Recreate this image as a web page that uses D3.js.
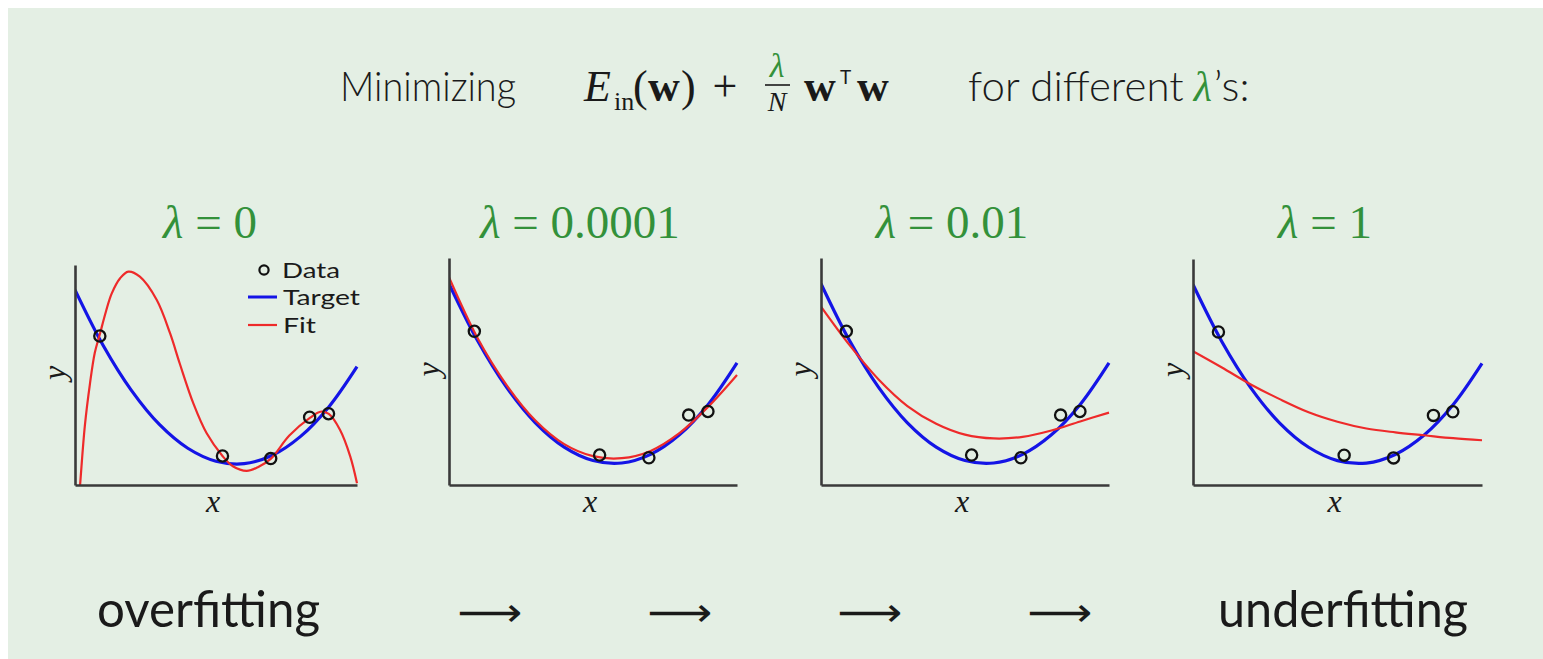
<!DOCTYPE html>
<html>
<head>
<meta charset="utf-8">
<script src="https://cdn.jsdelivr.net/npm/d3@7"></script>
<style>
  html, body { margin: 0; padding: 0; background: #ffffff; }
  svg { display: block; }
</style>
</head>
<body>
<svg id="chart" width="1543" height="659"></svg>
<script>
// ---- data -------------------------------------------------------------
// regularisation strengths, one panel each
const lambdaLabels = ["0", "0.0001", "0.01", "1"];

// noisy samples of the target
const dataX = [0.088, 0.523, 0.694, 0.832, 0.899];
const dataY = [0.677, 0.132, 0.120, 0.308, 0.324];

// common x grid for the smooth curves
const gridX = [0, 0.1, 0.2, 0.3, 0.4, 0.5, 0.6, 0.7, 0.8, 0.9, 1];

// target function (blue)
const targetY = [0.887, 0.634, 0.430, 0.274, 0.167, 0.108, 0.097, 0.135, 0.221, 0.355, 0.538];

// unregularised fit (lambda = 0) – wiggly, sampled more densely
const fitZeroX = [0, 0.018, 0.035, 0.053, 0.070, 0.088, 0.110, 0.130, 0.160, 0.189, 0.230, 0.290,
                  0.337, 0.372, 0.420, 0.467, 0.523, 0.560, 0.609, 0.650, 0.695, 0.760, 0.834,
                  0.870, 0.900, 0.940, 0.976, 1.0];
const fitZeroY = [-0.30, 0.0, 0.27, 0.46, 0.60, 0.685, 0.79, 0.87, 0.94, 0.97, 0.947, 0.841,
                  0.69, 0.55, 0.37, 0.235, 0.132, 0.085, 0.064, 0.082, 0.120, 0.225, 0.306,
                  0.333, 0.323, 0.25, 0.13, 0.008];

// regularised fits on the common grid
const fitSmallY = [0.915, 0.645, 0.440, 0.284, 0.180, 0.127, 0.118, 0.150, 0.228, 0.345, 0.485]; // 0.0001
const fitMidY   = [0.786, 0.615, 0.465, 0.348, 0.270, 0.222, 0.205, 0.212, 0.240, 0.280, 0.319]; // 0.01
const fitOneY   = [0.592, 0.520, 0.445, 0.380, 0.322, 0.280, 0.250, 0.233, 0.220, 0.207, 0.198]; // 1

const fitSeries = [
  fitZeroX.map((x, i) => [x, fitZeroY[i]]),
  gridX.map((x, i) => [x, fitSmallY[i]]),
  gridX.map((x, i) => [x, fitMidY[i]]),
  gridX.map((x, i) => [x, fitOneY[i]])
];
const targetSeries = gridX.map((x, i) => [x, targetY[i]]);
const points = dataX.map((x, i) => [x, dataY[i]]);

// ---- layout -------------------------------------------------------------
const panels = [
  { left: 75,  right: 357,  top: 265, bottom: 485, titleX: 210 },
  { left: 449, right: 737,  top: 258, bottom: 485, titleX: 580 },
  { left: 821, right: 1109, top: 258, bottom: 485, titleX: 952 },
  { left: 1193, right: 1482, top: 259, bottom: 485, titleX: 1325 }
];

const GREEN = "#33913a";
const BLUE = "#1414e6";
const RED = "#ee2a2a";
const AXIS = "#3a3a3a";
const SANS = "Lato, 'Open Sans', 'DejaVu Sans', sans-serif";
const SERIF = "'Liberation Serif', 'DejaVu Serif', serif";

const svg = d3.select("#chart");

// slide background
svg.append("rect")
  .attr("x", 8).attr("y", 8)
  .attr("width", 1535).attr("height", 651)
  .attr("fill", "#e4efe4");

function put(txt, x, y, o = {}) {
  const t = svg.append("text")
    .attr("x", x).attr("y", y)
    .attr("font-family", o.family || SANS)
    .attr("font-size", o.size || 38)
    .attr("fill", o.fill || "#1a1a1a")
    .attr("text-anchor", o.anchor || "start")
    .text(txt);
  if (o.italic) t.attr("font-style", "italic");
  if (o.bold) t.attr("font-weight", "bold");
  if (o.weight) t.attr("font-weight", o.weight);
  if (o.len) t.attr("textLength", o.len).attr("lengthAdjust", o.adjust || "spacing");
  return t;
}

// ---- heading: Minimizing E_in(w) + λ/N wᵀw for different λ's ----------
put("Minimizing", 340, 101, { size: 42, len: 176, adjust: "spacingAndGlyphs", weight: 300 });
put("E", 584, 101, { family: SERIF, size: 44, italic: true });
put("in", 614, 110, { family: SERIF, size: 26 });
put("(", 633, 101, { family: SERIF, size: 44 });
put("w", 648, 101, { family: SERIF, size: 44, bold: true });
put(")", 681, 101, { family: SERIF, size: 44 });
put("+", 725, 101, { family: SERIF, size: 44, anchor: "middle" });
put("λ", 777, 77, { family: SERIF, size: 34, italic: true, fill: GREEN, anchor: "middle" });
svg.append("line").attr("x1", 765).attr("x2", 790).attr("y1", 85).attr("y2", 85)
  .attr("stroke", "#1a1a1a").attr("stroke-width", 1.6);
put("N", 777, 111, { family: SERIF, size: 28, italic: true, anchor: "middle" });
put("w", 804, 101, { family: SERIF, size: 44, bold: true });
put("T", 840, 84, { family: SANS, size: 19 });
put("w", 857, 101, { family: SERIF, size: 44, bold: true });

// "for different λ's:" laid out piece by piece
const forTxt = put("for different", 968, 101, { size: 42, weight: 300 });
const lamX = 968 + forTxt.node().getComputedTextLength() + 10;
const lamTxt = put("λ", lamX, 101, { family: SERIF, size: 42, italic: true, fill: GREEN });
put("’s:", lamX + lamTxt.node().getComputedTextLength() + 2, 101, { size: 42, weight: 300 });

// ---- panels -------------------------------------------------------------
panels.forEach((p, k) => {
  const x = d3.scaleLinear().domain([0, 1]).range([p.left, p.right]);
  const y = d3.scaleLinear().domain([0, 1]).range([p.bottom, p.top]);
  const g = svg.append("g");

  const clipId = "clip" + k;
  svg.append("clipPath").attr("id", clipId)
    .append("rect")
    .attr("x", p.left).attr("y", p.top - 20)
    .attr("width", p.right - p.left + 2).attr("height", p.bottom - p.top + 20);

  // panel title
  const title = svg.append("text")
    .attr("x", p.titleX).attr("y", 238)
    .attr("text-anchor", "middle")
    .attr("font-family", SERIF).attr("font-size", 47)
    .attr("fill", GREEN);
  title.append("tspan").attr("font-style", "italic").text("λ");
  title.append("tspan").text(" = " + lambdaLabels[k]);

  const line = d3.line()
    .x(d => x(d[0])).y(d => y(d[1]))
    .curve(d3.curveCatmullRom.alpha(0.5));

  const plot = g.append("g").attr("clip-path", `url(#${clipId})`);

  plot.append("path").datum(targetSeries)
    .attr("d", line).attr("fill", "none")
    .attr("stroke", BLUE).attr("stroke-width", 3.2);

  plot.append("path").datum(fitSeries[k])
    .attr("d", line).attr("fill", "none")
    .attr("stroke", RED).attr("stroke-width", 2.2);

  g.selectAll("circle.pt").data(points).join("circle")
    .attr("class", "pt")
    .attr("cx", d => x(d[0])).attr("cy", d => y(d[1]))
    .attr("r", 5.6)
    .attr("fill", "none").attr("stroke", "#111").attr("stroke-width", 2.3);

  // axes: plain lines, no ticks
  const ax = g.append("g").attr("transform", `translate(0,${p.bottom})`)
    .call(d3.axisBottom(x).ticks(0).tickSizeOuter(0));
  const ay = g.append("g").attr("transform", `translate(${p.left},0)`)
    .call(d3.axisLeft(y).ticks(0).tickSizeOuter(0));
  [ax, ay].forEach(a => a.select(".domain")
    .attr("stroke", AXIS).attr("stroke-width", 2.6));

  // axis labels
  const cx = (p.left + p.right) / 2 - 3;
  put("x", cx, 512, { family: SERIF, size: 32, italic: true, anchor: "middle" });
  const cy = (p.top + p.bottom) / 2 - 2;
  svg.append("text")
    .attr("transform", `translate(${p.left - 10},${cy}) rotate(-90)`)
    .attr("text-anchor", "middle")
    .attr("font-family", SERIF).attr("font-size", 32).attr("font-style", "italic")
    .attr("fill", "#1a1a1a")
    .text("y");
});

// ---- legend (first panel) ---------------------------------------------
const lg = svg.append("g");
lg.append("circle").attr("cx", 264).attr("cy", 270).attr("r", 4.6)
  .attr("fill", "none").attr("stroke", "#111").attr("stroke-width", 2.2);
lg.append("line").attr("x1", 248).attr("x2", 277).attr("y1", 297).attr("y2", 297)
  .attr("stroke", BLUE).attr("stroke-width", 3);
lg.append("line").attr("x1", 248).attr("x2", 277).attr("y1", 325).attr("y2", 325)
  .attr("stroke", RED).attr("stroke-width", 2.2);
put("Data", 282, 278, { size: 22, len: 58, adjust: "spacingAndGlyphs" });
put("Target", 283, 305, { size: 22, len: 77, adjust: "spacingAndGlyphs" });
put("Fit", 283, 333, { size: 22, len: 33, adjust: "spacingAndGlyphs" });

// ---- bottom caption --------------------------------------------------
put("overfitting", 97, 627, { size: 50, len: 223, adjust: "spacingAndGlyphs" });
put("underfitting", 1218, 627, { size: 50, len: 250, adjust: "spacingAndGlyphs" });
[490, 680, 870, 1060].forEach(cx => {
  put("⟶", cx, 626, { family: "'DejaVu Sans', sans-serif", size: 40, anchor: "middle",
                      len: 65, adjust: "spacingAndGlyphs" });
});
</script>
</body>
</html>
